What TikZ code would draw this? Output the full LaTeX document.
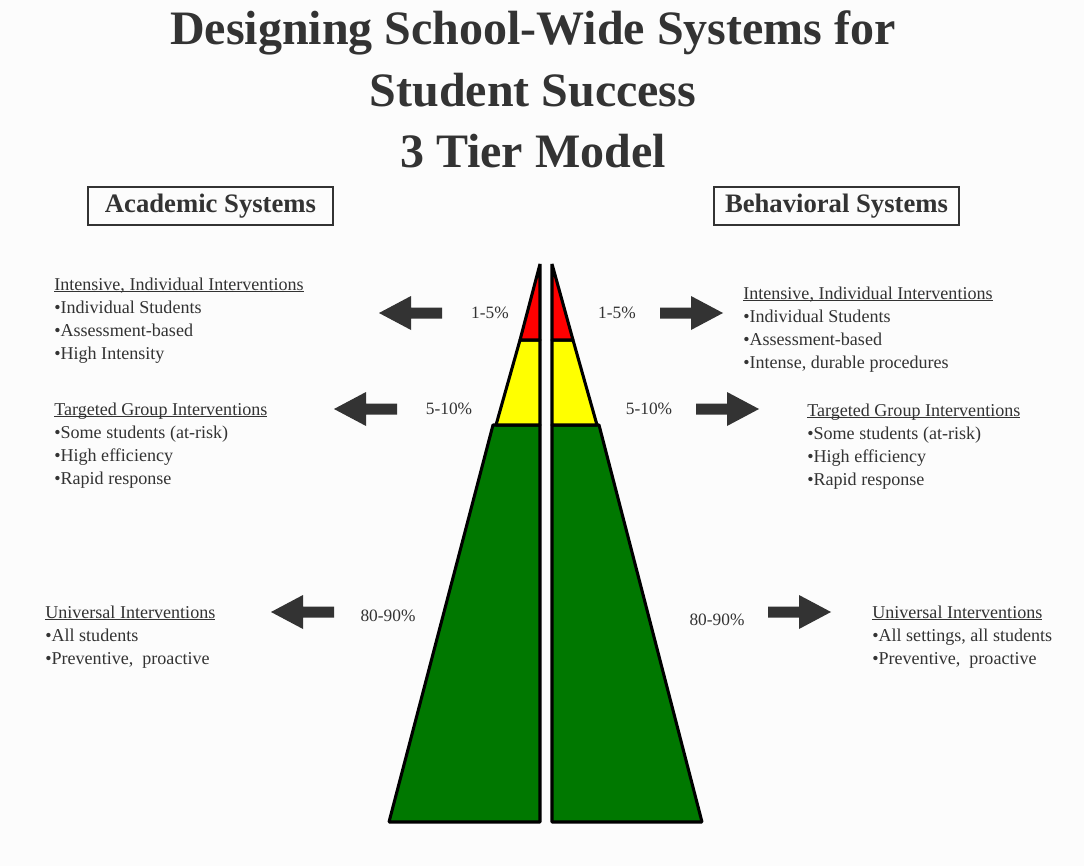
\documentclass[tikz,border=0pt]{standalone}
\usepackage{fontspec}
\setmainfont{Liberation Serif}
\definecolor{bgc}{RGB}{252,252,252}
\definecolor{txtc}{RGB}{51,51,51}
\definecolor{arrc}{RGB}{51,51,51}
\definecolor{redc}{RGB}{255,0,0}
\definecolor{yelc}{RGB}{255,255,0}
\definecolor{grnc}{RGB}{0,120,0}
\newlength\ulw
\newcommand\ulx[1]{\settowidth\ulw{#1}\rlap{\rule[-1.6pt]{\ulw}{0.8pt}}#1}
\newcommand\blk[1]{\fontsize{13.55}{17.25}\selectfont\begin{tabular}[t]{@{}l@{}}#1\end{tabular}}
\tikzset{
  tier/.style={draw=black, line width=2.3pt, line join=bevel},
  txtblock/.style={anchor=base west, inner sep=0pt, text=txtc},
  pct/.style={inner sep=0pt, text=txtc, font=\fontsize{13}{15}\selectfont},
  titleline/.style={anchor=base, inner sep=0pt, text=txtc, font=\fontsize{36}{44}\selectfont\bfseries},
  sysbox/.style={draw=txtc, line width=0.8pt, text=txtc, minimum width=183.75pt, minimum height=28.5pt, inner sep=0pt, font=\fontsize{20}{24}\selectfont\bfseries},
  blockarrow/.pic={\fill[arrc] (0,-5.5) -- (31,-5.5) -- (31,-17) -- (63,0) -- (31,17) -- (31,5.5) -- (0,5.5) -- cycle;}
}
\begin{document}
\begin{tikzpicture}[x=0.75pt,y=-0.75pt]
\fill[bgc] (0,0) rectangle (1084,866);
\useasboundingbox (0,0) rectangle (1084,866);
% title
\node[titleline] (t1) at (533,45) {Designing School-Wide Systems for};
\node[titleline] (t2) at (533,107) {Student Success};
\node[titleline] (t3) at (533,168) {3 Tier Model};
% system boxes
\node[sysbox] (acad) at (210.5,206) {Academic Systems};
\node[sysbox] (behav) at (836.5,206) {Behavioral Systems};
% pyramid left
\filldraw[tier, fill=grnc] (493,425) -- (540,425) -- (540,822) -- (389,822) -- cycle;
\filldraw[tier, fill=yelc] (520,340) -- (540,340) -- (540,425) -- (496,425) -- cycle;
\filldraw[tier, fill=redc] (540,264) -- (540,340) -- (520,340) -- cycle;
% pyramid right
\filldraw[tier, fill=grnc] (552,425) -- (599,425) -- (702,822) -- (552,822) -- cycle;
\filldraw[tier, fill=yelc] (552,340) -- (573,340) -- (597,425) -- (552,425) -- cycle;
\filldraw[tier, fill=redc] (552,264) -- (573,340) -- (552,340) -- cycle;
% arrows
\pic[xscale=-1] at (442,313) {blockarrow};
\pic at (660,313) {blockarrow};
\pic[xscale=-1] at (397,409) {blockarrow};
\pic at (696,409) {blockarrow};
\pic[xscale=-1] at (334,612) {blockarrow};
\pic at (768,612) {blockarrow};
% percentages
\node[pct] (p1l) at (490,313) {1-5\%};
\node[pct] (p1r) at (617,313) {1-5\%};
\node[pct] (p2l) at (449,409) {5-10\%};
\node[pct] (p2r) at (649,409) {5-10\%};
\node[pct] (p3l) at (388,616) {80-90\%};
\node[pct] (p3r) at (717,620) {80-90\%};
% text blocks
\node[txtblock] (al1) at (54,290) {\blk{\ulx{Intensive, Individual Interventions}\\ •Individual Students\\ •Assessment-based\\ •High Intensity}};
\node[txtblock] (al2) at (54,415) {\blk{\ulx{Targeted Group Interventions}\\ •Some students (at-risk)\\ •High efficiency\\ •Rapid response}};
\node[txtblock] (al3) at (45,618) {\blk{\ulx{Universal Interventions}\\ •All students\\ •Preventive,\ \ proactive}};
\node[txtblock] (bl1) at (743,299) {\blk{\ulx{Intensive, Individual Interventions}\\ •Individual Students\\ •Assessment-based\\ •Intense, durable procedures}};
\node[txtblock] (bl2) at (807,416) {\blk{\ulx{Targeted Group Interventions}\\ •Some students (at-risk)\\ •High efficiency\\ •Rapid response}};
\node[txtblock] (bl3) at (872,618) {\blk{\ulx{Universal Interventions}\\ •All settings, all students\\ •Preventive,\ \ proactive}};
\end{tikzpicture}
\end{document}
